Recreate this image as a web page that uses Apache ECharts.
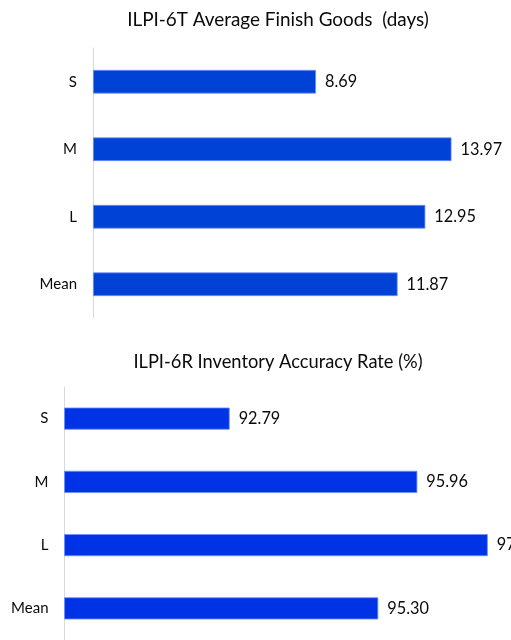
<!DOCTYPE html>
<html>
<head>
<meta charset="utf-8">
<script src="https://cdn.jsdelivr.net/npm/echarts@6/dist/echarts.min.js"></script>
<style>html,body{margin:0;padding:0;background:#fff;}#c{width:511px;height:640px;}</style>
</head>
<body>
<div id="c"></div>
<script>
var categories = ['S', 'M', 'L', 'Mean'];
var finishGoodsDays = [8.69, 13.97, 12.95, 11.87];
var finishGoodsLabels = ['8.69', '13.97', '12.95', '11.87'];
var accuracyRate = [92.79, 95.96, 97.15, 95.30];
var accuracyLabels = ['92.79', '95.96', '97', '95.30'];
var titleTop = 'ILPI-6T Average Finish Goods  (days)';
var titleBottom = 'ILPI-6R Inventory Accuracy Rate (%)';

var FONT = 'Lato';
var chart = echarts.init(document.getElementById('c'), null, {renderer: 'canvas'});

function barSeries(idx, data, labels, color) {
  return {
    type: 'bar',
    xAxisIndex: idx,
    yAxisIndex: idx,
    data: data,
    barWidth: '35%',
    itemStyle: {color: color, borderColor: '#6f8fff', borderWidth: 0.8},
    label: {
      show: true,
      position: 'right',
      distance: 9,
      color: '#0a0a0a',
      fontFamily: FONT,
      fontSize: 16.3,
      formatter: function (p) { return labels[p.dataIndex]; }
    },
    silent: true,
    animation: false
  };
}

var yAxisCommon = {
  type: 'category',
  data: categories,
  inverse: true,
  axisTick: {show: false},
  axisLine: {show: true, lineStyle: {color: '#d9d9d9', width: 1}},
  axisLabel: {color: '#0a0a0a', fontFamily: FONT, fontSize: 15, margin: 16}
};

chart.setOption({
  animation: false,
  title: [
    {text: titleTop, left: 273, top: 5, textAlign: 'center',
     textStyle: {fontFamily: FONT, fontSize: 18.9, fontWeight: 'normal', color: '#0a0a0a'}},
    {text: titleBottom, left: 273, top: 348, textAlign: 'center',
     textStyle: {fontFamily: FONT, fontSize: 18.3, fontWeight: 'normal', color: '#0a0a0a'}}
  ],
  grid: [
    {left: 93, width: 410.6, top: 48, height: 270},
    {left: 64.5, width: 444, top: 387, height: 257}
  ],
  xAxis: [
    {gridIndex: 0, type: 'value', min: 0, max: 16, show: false},
    {gridIndex: 1, type: 'value', min: 90, max: 97.5, show: false}
  ],
  yAxis: [
    Object.assign({gridIndex: 0}, yAxisCommon),
    Object.assign({gridIndex: 1}, yAxisCommon)
  ],
  series: [
    barSeries(0, finishGoodsDays, finishGoodsLabels, '#0042d6'),
    barSeries(1, accuracyRate, accuracyLabels, '#0033e6')
  ]
});
</script>
</body>
</html>
